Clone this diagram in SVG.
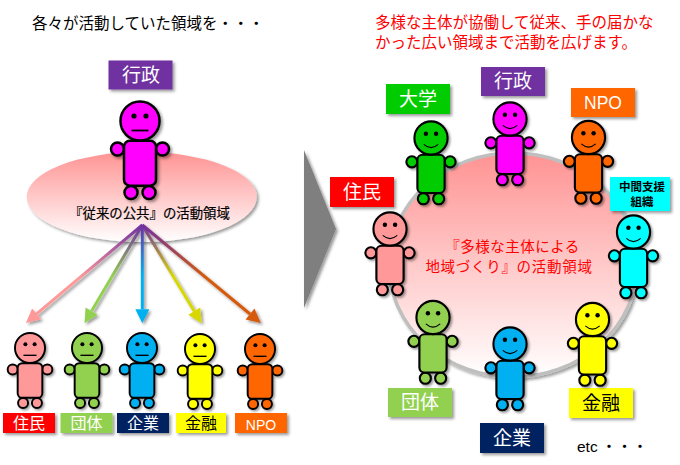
<svg xmlns="http://www.w3.org/2000/svg" width="680" height="465" viewBox="0 0 680 465">
<style>
text{font-family:"Noto Sans CJK JP","Liberation Sans",sans-serif;text-anchor:middle}
.t{text-anchor:start;font-size:15.5px}
.lg{font-size:19px;fill:#fff}
.sm{font-size:16px;fill:#fff}
.lat{font-family:"Liberation Sans","Noto Sans CJK JP",sans-serif}
.dk{fill:#000}
.ln{fill:none;stroke-width:3}
.sh{filter:url(#sh)}
</style>
<defs>
<filter id="sh" x="-30%" y="-30%" width="170%" height="170%"><feDropShadow dx="2" dy="2" stdDeviation="1.4" flood-color="#000" flood-opacity=".4"/></filter>
<linearGradient id="area" x1="0" y1="0" x2="0" y2="1"><stop offset="0" stop-color="#ff9393"/><stop offset="1" stop-color="#fff"/></linearGradient>
<g id="body" stroke="#000" stroke-width="2.5">
<circle cx="-22.5" cy="28" r="6.5"/><circle cx="22.5" cy="28" r="6.5"/>
<circle cx="-9" cy="71.5" r="6.5"/><circle cx="9" cy="71.5" r="6.5"/>
<rect x="-16" y="19.7" width="32" height="45" rx="6"/>
<circle r="19.5"/>
<circle cx="-6" cy="-5" r="2.6" fill="#000" stroke="none"/><circle cx="6" cy="-5" r="2.6" fill="#000" stroke="none"/>
</g>
<g id="pn"><use href="#body"/><path d="M-8.5 9.5H8.5" stroke="#000" stroke-width="1.8" fill="none"/></g>
<g id="ps"><use href="#body"/><path d="M-8.5 7.5Q0 15 8.5 7.5" stroke="#000" stroke-width="1.3" fill="none"/></g>
<linearGradient id="g1" gradientUnits="userSpaceOnUse" x1="142.3" y1="225" x2="36.6" y2="313.9"><stop offset="0" stop-color="#7030a0"/><stop offset=".6" stop-color="#ff9999"/></linearGradient>
<linearGradient id="g2" gradientUnits="userSpaceOnUse" x1="142.3" y1="225" x2="91.6" y2="311.1"><stop offset="0" stop-color="#7030a0"/><stop offset=".6" stop-color="#92d050"/></linearGradient>
<linearGradient id="g3" gradientUnits="userSpaceOnUse" x1="142.3" y1="225" x2="142.3" y2="309.3"><stop offset="0" stop-color="#7030a0"/><stop offset=".6" stop-color="#00b0f0"/></linearGradient>
<linearGradient id="g4" gradientUnits="userSpaceOnUse" x1="142.3" y1="225" x2="194.3" y2="311.2"><stop offset="0" stop-color="#7030a0"/><stop offset=".6" stop-color="#d8d800"/></linearGradient>
<linearGradient id="g5" gradientUnits="userSpaceOnUse" x1="142.3" y1="225" x2="250" y2="314"><stop offset="0" stop-color="#7030a0"/><stop offset=".6" stop-color="#d55a0a"/></linearGradient>
<marker id="m1" markerUnits="userSpaceOnUse" markerWidth="14" markerHeight="14" refX="0" refY="7" orient="auto" overflow="visible"><path d="M0 0L14 7L0 14Z" fill="#ff9999"/></marker>
<marker id="m2" markerUnits="userSpaceOnUse" markerWidth="14" markerHeight="14" refX="0" refY="7" orient="auto" overflow="visible"><path d="M0 0L14 7L0 14Z" fill="#92d050"/></marker>
<marker id="m3" markerUnits="userSpaceOnUse" markerWidth="14" markerHeight="14" refX="0" refY="7" orient="auto" overflow="visible"><path d="M0 0L14 7L0 14Z" fill="#00b0f0"/></marker>
<marker id="m4" markerUnits="userSpaceOnUse" markerWidth="14" markerHeight="14" refX="0" refY="7" orient="auto" overflow="visible"><path d="M0 0L14 7L0 14Z" fill="#d8d800"/></marker>
<marker id="m5" markerUnits="userSpaceOnUse" markerWidth="14" markerHeight="14" refX="0" refY="7" orient="auto" overflow="visible"><path d="M0 0L14 7L0 14Z" fill="#d55a0a"/></marker>
</defs>
<rect width="680" height="465" fill="#fff"/>

<text class="t" x="32" y="29">各々が活動していた領域を・・・</text>
<text class="t" x="375" y="28" fill="#f00">多様な主体が協働して従来、手の届かな</text>
<text class="t" x="375" y="48" fill="#f00">かった広い領域まで活動を広げます。</text>

<polygon id="big-arrow" class="sh" points="304,150 336,229 304,308" fill="#7f7f7f"/>

<g id="area-left">
<ellipse class="sh" cx="141.7" cy="197" rx="115" ry="45" fill="url(#area)"/>
<text x="149.5" y="218" font-size="13.4" stroke="#000" stroke-width=".2">『従来の公共』の活動領域</text>
</g>
<g id="area-right">
<ellipse class="sh" cx="513" cy="265" rx="124" ry="112" fill="url(#area)" stroke="#bfbfbf" stroke-width="3.5"/>
<text x="512.5" y="251.5" font-size="14.5" letter-spacing=".5" fill="#f00">『多様な主体による</text>
<text x="509" y="271.5" font-size="14.5" letter-spacing=".7" fill="#f00">地域づくり』の活動領域</text>
</g>

<g id="connectors" class="sh">
<line class="ln" x1="142.3" y1="225" x2="36.6" y2="313.9" stroke="url(#g1)" marker-end="url(#m1)"/>
<line class="ln" x1="142.3" y1="225" x2="91.6" y2="311.1" stroke="url(#g2)" marker-end="url(#m2)"/>
<line class="ln" x1="142.3" y1="225" x2="142.3" y2="309.3" stroke="url(#g3)" marker-end="url(#m3)"/>
<line class="ln" x1="142.3" y1="225" x2="194.3" y2="311.2" stroke="url(#g4)" marker-end="url(#m4)"/>
<line class="ln" x1="142.3" y1="225" x2="250" y2="314" stroke="url(#g5)" marker-end="url(#m5)"/>
</g>

<g id="l-gyosei">
<rect class="sh" x="108.5" y="60.5" width="64" height="29" fill="#7030a0"/><text class="lg" x="141" y="82">行政</text>
<use class="sh" href="#pn" transform="translate(140 121)" fill="#f0f"/>
</g>
<g id="l-jumin">
<use class="sh" href="#pn" transform="translate(30 348) scale(.77)" fill="#ff9999"/>
<rect class="sh" x="3" y="413" width="52" height="20" fill="#f00"/><text class="sm" x="29" y="429">住民</text>
</g>
<g id="l-dantai">
<use class="sh" href="#pn" transform="translate(87 348) scale(.77)" fill="#92d050"/>
<rect class="sh" x="60.5" y="413" width="52" height="20" fill="#92d050"/><text class="sm" x="86.5" y="429">団体</text>
</g>
<g id="l-kigyo">
<use class="sh" href="#pn" transform="translate(142 348) scale(.77)" fill="#00b0f0"/>
<rect class="sh" x="117" y="413" width="52" height="20" fill="#002060"/><text class="sm" x="143" y="429">企業</text>
</g>
<g id="l-kinyu">
<use class="sh" href="#pn" transform="translate(200 349) scale(.77)" fill="#ff0"/>
<rect class="sh" x="176" y="413" width="50" height="20" fill="#ff0"/><text class="sm dk" x="201" y="429">金融</text>
</g>
<g id="l-npo">
<use class="sh" href="#pn" transform="translate(260 349) scale(.77)" fill="#f60"/>
<rect class="sh" x="235" y="413" width="52" height="20" fill="#f60"/><text class="sm lat" x="261" y="430" style="font-size:14px">NPO</text>
</g>

<g id="r-gyosei">
<rect class="sh" x="481" y="67" width="64" height="29" fill="#7030a0"/><text class="lg" x="513" y="88">行政</text>
<use class="sh" href="#ps" transform="translate(510 119) scale(.85)" fill="#f0f"/>
</g>
<g id="r-daigaku">
<rect class="sh" x="386" y="84" width="64" height="30" fill="#00cc00"/><text class="lg" x="418" y="106">大学</text>
<use class="sh" href="#ps" transform="translate(431 138) scale(.85)" fill="#00cc00"/>
</g>
<g id="r-npo">
<rect class="sh" x="571" y="88" width="64" height="29" fill="#f60"/><text class="lg lat" x="603" y="109" style="font-size:17.5px">NPO</text>
<use class="sh" href="#ps" transform="translate(588.5 137.5) scale(.85)" fill="#f60"/>
</g>
<g id="r-jumin">
<rect class="sh" x="330" y="177" width="64" height="30" fill="#f00"/><text class="lg" x="362" y="199">住民</text>
<use class="sh" href="#ps" transform="translate(390 229) scale(.85)" fill="#ff9999"/>
</g>
<g id="r-chukan">
<rect class="sh" x="610" y="177" width="60" height="34" fill="#0ff"/>
<text class="dk" x="642" y="191" font-size="11.5" font-weight="700">中間支援</text><text class="dk" x="642" y="206" font-size="11.5" font-weight="700">組織</text>
<use class="sh" href="#ps" transform="translate(633.5 232) scale(.85)" fill="#0ff"/>
</g>
<g id="r-kinyu">
<rect class="sh" x="569" y="388" width="64" height="30" fill="#ff0"/><text class="lg dk" x="601" y="410">金融</text>
<use class="sh" href="#ps" transform="translate(592.5 319.5) scale(.85)" fill="#ff0"/>
</g>
<g id="r-kigyo">
<rect class="sh" x="480" y="423" width="64" height="30" fill="#002060"/><text class="lg" x="512" y="445">企業</text>
<use class="sh" href="#ps" transform="translate(510 344) scale(.85)" fill="#00b0f0"/>
</g>
<g id="r-dantai">
<rect class="sh" x="388" y="388" width="64" height="29" fill="#92d050"/><text class="lg" x="420" y="409">団体</text>
<use class="sh" href="#ps" transform="translate(433 317.5) scale(.85)" fill="#92d050"/>
</g>
<text x="577" y="452" font-size="15.5" style="text-anchor:start"><tspan class="lat">etc</tspan> ・・・</text>
</svg>
